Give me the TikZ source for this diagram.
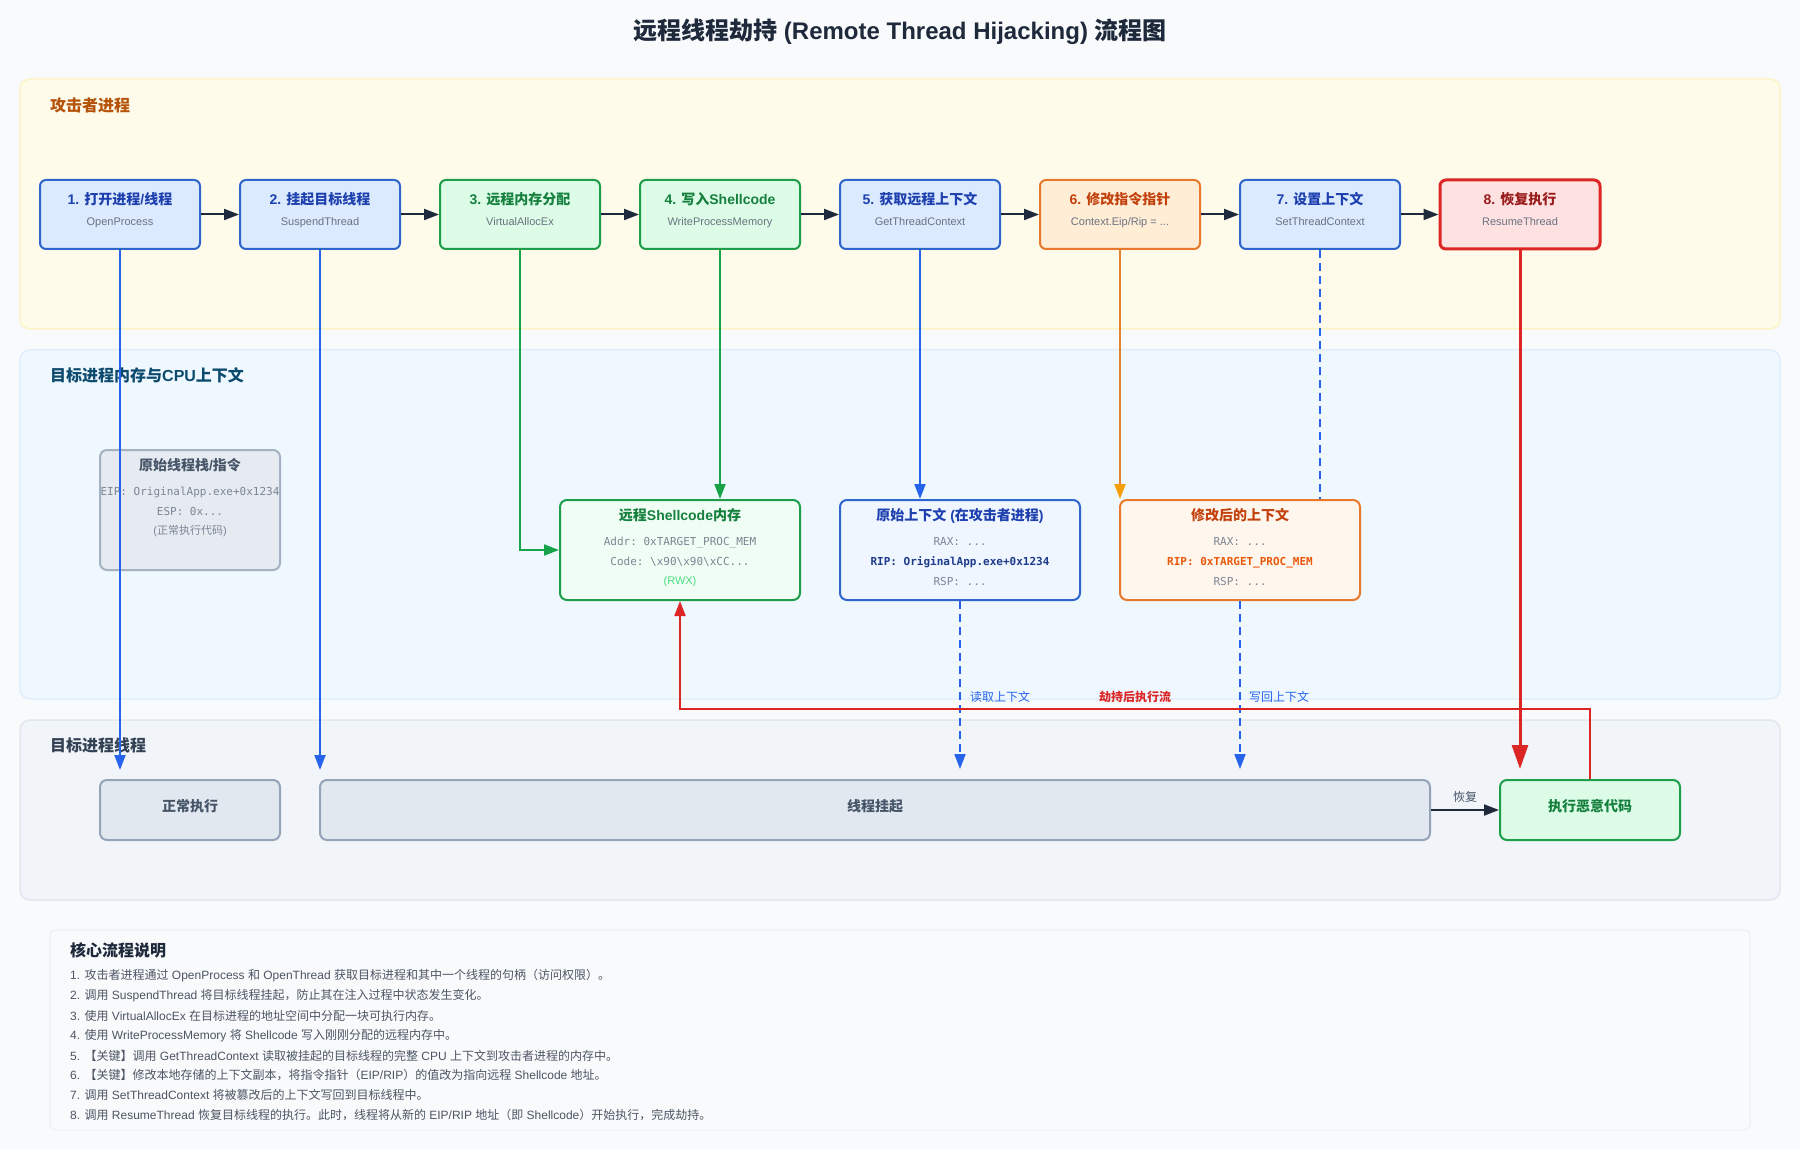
\documentclass[tikz,border=0pt]{standalone}
\usepackage{fontspec}
\setmainfont{Liberation Sans}
\setmonofont{DejaVu Sans Mono}
\newfontfamily\cjkfont[NFSSFamily=cjkfam]{Noto Sans CJK SC}
\usetikzlibrary{arrows.meta}
% automatic switch to the CJK font for Chinese characters
\XeTeXinterchartokenstate=1
\newXeTeXintercharclass\cjkcls
\makeatletter
\count@="2E80
\loop
  \XeTeXcharclass\count@=\cjkcls
  \ifnum\count@<"9FFF \advance\count@ by 1 \repeat
\count@="FF00
\loop
  \XeTeXcharclass\count@=\cjkcls
  \ifnum\count@<"FFEF \advance\count@ by 1 \repeat
\makeatother
\newcommand\cjkon{\fontfamily{cjkfam}\selectfont}
\newcommand\cjkoff{\fontfamily{\rmdefault}\selectfont}
\XeTeXinterchartoks 0 \cjkcls = {\cjkon}
\XeTeXinterchartoks 4095 \cjkcls = {\cjkon}
\XeTeXinterchartoks \cjkcls 0 = {\cjkoff}
\XeTeXinterchartoks \cjkcls 4095 = {\cjkoff}

\definecolor{bgc}{HTML}{F8FAFC}
\definecolor{titleC}{HTML}{1E293B}
\definecolor{pAfill}{HTML}{FFFBEA}
\definecolor{pAdraw}{HTML}{FDF3C8}
\definecolor{pAlab}{HTML}{B45309}
\definecolor{pBfill}{HTML}{EFF8FF}
\definecolor{pBdraw}{HTML}{E0EFFC}
\definecolor{pBlab}{HTML}{0C4A6E}
\definecolor{pCfill}{HTML}{F1F5F9}
\definecolor{pCdraw}{HTML}{E2E8F0}
\definecolor{pClab}{HTML}{334155}
\definecolor{blueF}{HTML}{DBEAFE}
\definecolor{blueL}{HTML}{EFF6FF}
\definecolor{blueB}{HTML}{2F66CC}
\definecolor{blueT}{HTML}{1E40AF}
\definecolor{blueD}{HTML}{1E3A8A}
\definecolor{greenF}{HTML}{DCFCE7}
\definecolor{greenL}{HTML}{F0FDF4}
\definecolor{greenB}{HTML}{1E9E4A}
\definecolor{greenT}{HTML}{15803D}
\definecolor{rwxC}{HTML}{4ADE80}
\definecolor{orangeF}{HTML}{FFEDD5}
\definecolor{orangeL}{HTML}{FFF7ED}
\definecolor{orangeB}{HTML}{E8792C}
\definecolor{orangeT}{HTML}{C2410C}
\definecolor{orangeR}{HTML}{EA580C}
\definecolor{redF}{HTML}{FEE2E2}
\definecolor{redB}{HTML}{DC2626}
\definecolor{redT}{HTML}{991B1B}
\definecolor{grayF}{HTML}{E2E8F0}
\definecolor{grayB}{HTML}{94A3B8}
\definecolor{grayT}{HTML}{475569}
\definecolor{subgray}{HTML}{6B7280}
\definecolor{monogray}{HTML}{7C8594}
\definecolor{darkA}{HTML}{1E293B}
\definecolor{cBlue}{HTML}{2563EB}
\definecolor{cGreen}{HTML}{16A34A}
\definecolor{cOrangeL}{HTML}{E3822F}
\definecolor{cOrange}{HTML}{F59E0B}
\definecolor{cRed}{HTML}{DC2626}
\definecolor{notesF}{HTML}{F9FAFC}
\definecolor{notesB}{HTML}{EBEFF4}
\definecolor{notesT}{HTML}{4B5563}

\newcommand\rowbox[6]{%
  \node[rowbox,#3] (#1) at (#2,214.5) {};
  \node[rtitle,text=#4] (#1t) at (#2,199) {#5};
  \node[rsub] (#1s) at (#2,221.5) {#6};}

\begin{document}
\begin{tikzpicture}[x=1pt,y=-1pt,
  panel/.style={draw, line width=1.5pt, rounded corners=10pt, inner sep=0},
  plabel/.style={anchor=west, inner sep=0, font=\fontsize{16}{19}\selectfont\bfseries},
  rowbox/.style={draw, line width=2pt, rounded corners=6pt, minimum width=160pt, minimum height=69pt, inner sep=0},
  rtitle/.style={inner sep=0, font=\fontsize{14}{17}\selectfont\bfseries},
  rsub/.style={inner sep=0, text=subgray, text height=8pt, text depth=0pt, font=\fontsize{11}{13}\selectfont},
  cbox/.style={draw, line width=2pt, rounded corners=7pt, minimum width=240pt, minimum height=100pt, inner sep=0},
  ctitle/.style={inner sep=0, font=\fontsize{14}{17}\selectfont\bfseries},
  mono/.style={inner sep=0, text=monogray, text height=8pt, text depth=0pt, font=\fontsize{11}{13}\ttfamily},
  monob/.style={inner sep=0, text height=8pt, text depth=0pt, font=\fontsize{11}{13}\ttfamily\bfseries},
  small/.style={inner sep=0, font=\fontsize{11}{13}\selectfont},
  gbox/.style={draw=grayB, fill=grayF, line width=2pt, rounded corners=7pt, minimum height=60pt, inner sep=0,
     text height=11pt, text depth=9pt, text=grayT, font=\fontsize{14}{17}\selectfont\bfseries},
  lab/.style={inner sep=0, font=\fontsize{12}{14}\selectfont},
  note/.style={anchor=west, inner sep=0, text=notesT, font=\fontsize{12}{14}\selectfont},
  conn/.style={line width=2pt, -{Triangle[length=15pt,width=11pt]}},
  dashconn/.style={line width=2pt, dash pattern=on 8pt off 5pt},
]
\fill[bgc] (0,0) rectangle (1800,1150);
\useasboundingbox (0,0) rectangle (1800,1150);

% title
\node[inner sep=0, text=titleC, font=\fontsize{24}{29}\selectfont\bfseries] (title) at (900,32)
  {远程线程劫持 (Remote Thread Hijacking) 流程图};

% panels
\node[panel, fill=pAfill, draw=pAdraw, minimum width=1760pt, minimum height=250pt] (pA) at (900,204) {};
\node[plabel, text=pAlab] (pAl) at (50,105) {攻击者进程};
\node[panel, fill=pBfill, draw=pBdraw, minimum width=1760pt, minimum height=349pt] (pB) at (900,524.5) {};
\node[plabel, text=pBlab] (pBl) at (50,375) {目标进程内存与CPU上下文};
\node[panel, fill=pCfill, draw=pCdraw, minimum width=1760pt, minimum height=180pt] (pC) at (900,810) {};
\node[plabel, text=pClab] (pCl) at (50,745) {目标进程线程};

% attacker steps
\rowbox{b1}{120}{fill=blueF,draw=blueB}{blueT}{1. 打开进程/线程}{OpenProcess}
\rowbox{b2}{320}{fill=blueF,draw=blueB}{blueT}{2. 挂起目标线程}{SuspendThread}
\rowbox{b3}{520}{fill=greenF,draw=greenB}{greenT}{3. 远程内存分配}{VirtualAllocEx}
\rowbox{b4}{720}{fill=greenF,draw=greenB}{greenT}{4. 写入Shellcode}{WriteProcessMemory}
\rowbox{b5}{920}{fill=blueF,draw=blueB}{blueT}{5. 获取远程上下文}{GetThreadContext}
\rowbox{b6}{1120}{fill=orangeF,draw=orangeB}{orangeT}{6. 修改指令指针}{Context.Eip/Rip = ...}
\rowbox{b7}{1320}{fill=blueF,draw=blueB}{blueT}{7. 设置上下文}{SetThreadContext}
\rowbox{b8}{1520}{fill=redF,draw=redB,line width=3pt}{redT}{8. 恢复执行}{ResumeThread}

% memory / context boxes
\node[draw=grayB!85, fill=grayF!85, line width=2pt, rounded corners=7pt, minimum width=180pt, minimum height=120pt, inner sep=0] (stk) at (190,510) {};
\node[ctitle, text=grayT] (stkt) at (190,465) {原始线程栈/指令};
\node[mono] (stk1) at (190,491) {EIP: OriginalApp.exe+0x1234};
\node[mono] (stk2) at (190,511) {ESP: 0x...};
\node[small, text=monogray] (stk3) at (190,531) {(正常执行代码)};

\node[cbox, fill=greenL, draw=greenB] (shell) at (680,550) {};
\node[ctitle, text=greenT] (shellt) at (680,515.5) {远程Shellcode内存};
\node[mono] (shell1) at (680,541) {Addr: 0xTARGET\_PROC\_MEM};
\node[mono] (shell2) at (680,561) {Code: \textbackslash x90\textbackslash x90\textbackslash xCC...};
\node[small, text=rwxC] (shell3) at (680,582) {(RWX)};

\node[cbox, fill=blueL, draw=blueB] (octx) at (960,550) {};
\node[ctitle, text=blueT] (octxt) at (960,515.5) {原始上下文 (在攻击者进程)};
\node[mono] (octx1) at (960,541) {RAX: ...};
\node[monob, text=blueD] (octx2) at (960,561) {RIP: OriginalApp.exe+0x1234};
\node[mono] (octx3) at (960,581) {RSP: ...};

\node[cbox, fill=orangeL, draw=orangeB] (mctx) at (1240,550) {};
\node[ctitle, text=orangeT] (mctxt) at (1240,515.5) {修改后的上下文};
\node[mono] (mctx1) at (1240,541) {RAX: ...};
\node[monob, text=orangeR] (mctx2) at (1240,561) {RIP: 0xTARGET\_PROC\_MEM};
\node[mono] (mctx3) at (1240,581) {RSP: ...};

% thread states
\node[gbox, minimum width=180pt] (nrm) at (190,810) {正常执行};
\node[gbox, minimum width=1110pt] (susp) at (875,810) {线程挂起};
\node[gbox, draw=greenB, fill=greenF, text=greenT, minimum width=180pt] (evil) at (1590,810) {执行恶意代码};

% notes
\node[draw=notesB, fill=notesF, line width=1pt, rounded corners=6pt, minimum width=1700pt, minimum height=200pt, inner sep=0] (notes) at (900,1030) {};
\node[anchor=west, inner sep=0, text=titleC, font=\fontsize{16}{19}\selectfont\bfseries] (nt) at (70,950) {核心流程说明};
\node[note] (n1) at (70,976) {1. 攻击者进程通过 OpenProcess 和 OpenThread 获取目标进程和其中一个线程的句柄（访问权限）。};
\node[note] (n2) at (70,996) {2. 调用 SuspendThread 将目标线程挂起，防止其在注入过程中状态发生变化。};
\node[note] (n3) at (70,1016) {3. 使用 VirtualAllocEx 在目标进程的地址空间中分配一块可执行内存。};
\node[note] (n4) at (70,1036) {4. 使用 WriteProcessMemory 将 Shellcode 写入刚刚分配的远程内存中。};
\node[note] (n5) at (70,1056) {5. 【关键】调用 GetThreadContext 读取被挂起的目标线程的完整 CPU 上下文到攻击者进程的内存中。};
\node[note] (n6) at (70,1075) {6. 【关键】修改本地存储的上下文副本，将指令指针（EIP/RIP）的值改为指向远程 Shellcode 地址。};
\node[note] (n7) at (70,1095) {7. 调用 SetThreadContext 将被篡改后的上下文写回到目标线程中。};
\node[note] (n8) at (70,1115) {8. 调用 ResumeThread 恢复目标线程的执行。此时，线程将从新的 EIP/RIP 地址（即 Shellcode）开始执行，完成劫持。};

% row arrows
\foreach \a/\b in {b1/b2,b2/b3,b3/b4,b4/b5,b5/b6,b6/b7,b7/b8}
  \draw[conn, darkA] (\a.east) -- (\b.west);

% vertical connectors
\draw[conn, cBlue, shorten >=9pt] (b1.south) -- (b1.south |- nrm.north);
\draw[conn, cBlue, shorten >=9pt] (b2.south) -- (b2.south |- susp.north);
\draw[conn, cGreen] (b3.south) |- (shell.west);
\draw[conn, cGreen] (b4.south) -- (b4.south |- shell.north);
\draw[conn, cBlue] (b5.south) -- (b5.south |- octx.north);
\draw[line width=2pt, cOrangeL, -{Triangle[length=15pt,width=11pt,color=cOrange]}] (b6.south) -- (b6.south |- mctx.north);
\draw[dashconn, cBlue] (b7.south) -- (b7.south |- mctx.north);
\draw[cRed, line width=3pt, -{Triangle[length=24pt,width=16pt]}, shorten >=10pt] (b8.south) -- (b8.south |- evil.north);

\draw[dashconn, cBlue, -{Triangle[length=15pt,width=11pt]}, shorten >=10pt] (octx.south) -- (octx.south |- susp.north);
\draw[dashconn, cBlue, -{Triangle[length=15pt,width=11pt]}, shorten >=10pt] (mctx.south) -- (mctx.south |- susp.north);

\coordinate (hj) at (1590,709);
\draw[conn, cRed] (evil.north) -- (hj) -| (shell.south);

\draw[conn, darkA] (susp.east) -- (evil.west);

% connector labels
\node[lab, text=cBlue, anchor=west] (l1) at (970,697) {读取上下文};
\node[lab, text=cRed, font=\fontsize{12}{14}\selectfont\bfseries] (l2) at (1135,697) {劫持后执行流};
\node[lab, text=cBlue, anchor=west] (l3) at (1249,697) {写回上下文};
\node[lab, text=grayT] (l4) at (1465,797) {恢复};
\end{tikzpicture}
\end{document}
